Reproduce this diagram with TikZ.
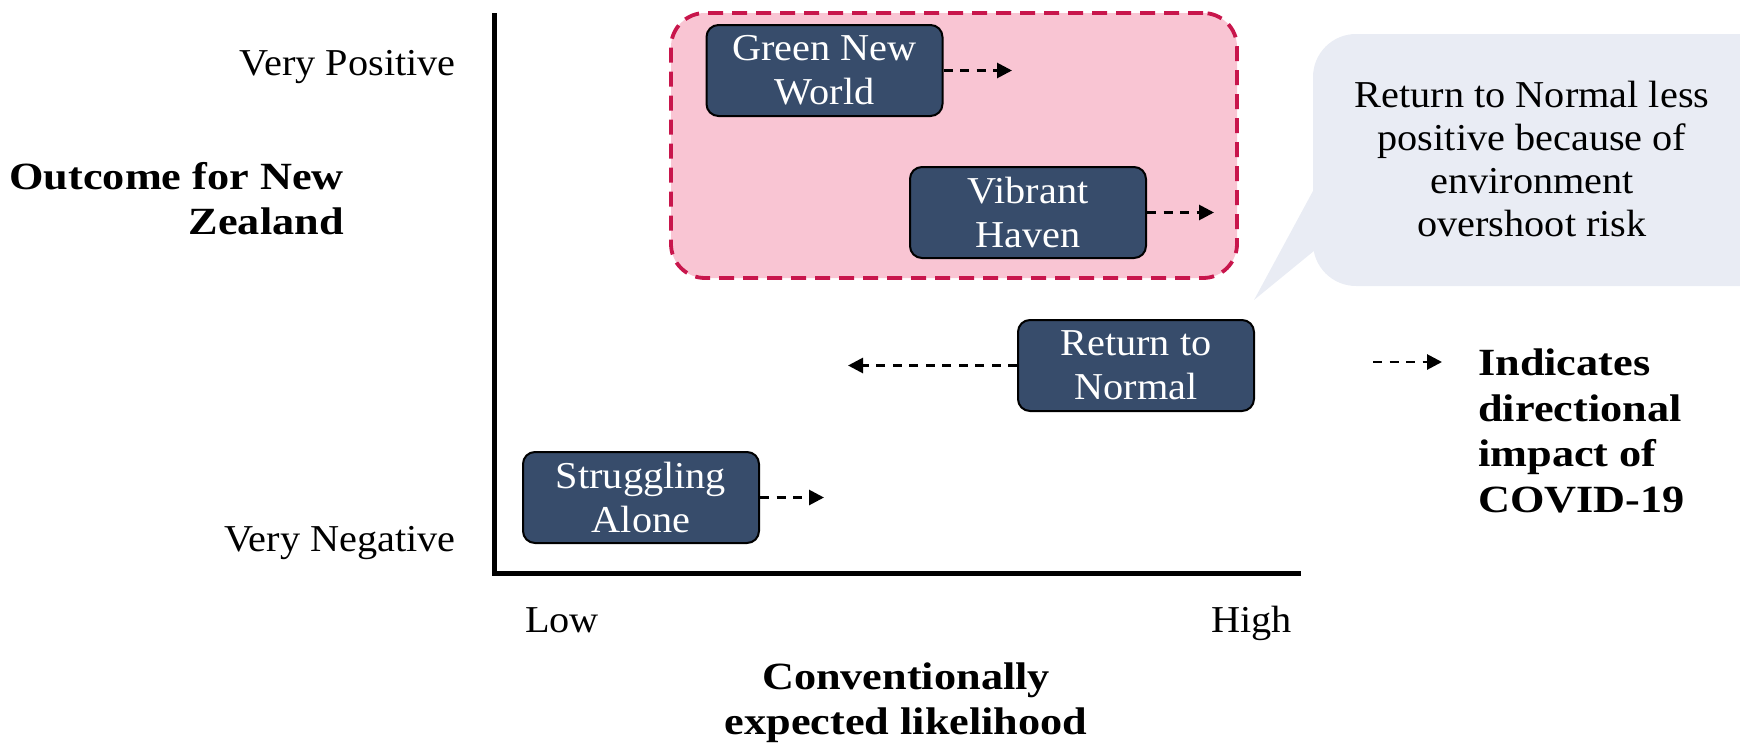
\documentclass[tikz,border=0pt]{standalone}
\usepackage{fontspec}
\setmainfont[FakeStretch=1.06]{Liberation Serif}
\newfontfamily\headfont[FakeStretch=1.15]{Liberation Serif}
\usetikzlibrary{arrows.meta}

\definecolor{scenblue}{HTML}{374C6B}
\definecolor{zonepink}{HTML}{F9C5D3}
\definecolor{zoneedge}{HTML}{C8164C}
\definecolor{notegrey}{HTML}{E9ECF4}

\tikzset{
  scen/.style={draw=black, line width=2pt, fill=scenblue, rounded corners=12pt,
    text=white, minimum width=236pt, minimum height=91pt, inner sep=0pt,
    align=center, font=\fontsize{38}{44}\selectfont},
  impact/.style={draw=black, line width=2.8pt, dash pattern=on 9pt off 7.5pt,
    -{Triangle[length=15pt,width=15pt]}},
  axisline/.style={line width=5pt, line join=miter},
  zone/.style={draw=zoneedge, fill=zonepink, line width=3.8pt,
    dash pattern=on 15pt off 9pt, rounded corners=34pt, inner sep=0pt},
  plain/.style={inner sep=0pt, font=\fontsize{38}{44}\selectfont},
  heading/.style={inner sep=0pt, font=\headfont\bfseries\fontsize{38.5}{45.5}\selectfont}
}

\begin{document}
\begin{tikzpicture}[x=1pt,y=-1pt]
\useasboundingbox (0,0) rectangle (1740,744);
\clip (0,0) rectangle (1740,744);

% favourable region
\node[zone, minimum width=566pt, minimum height=265pt] (zone) at (954,145.5) {};

% speech bubble behind the note
\fill[notegrey, rounded corners=43pt] (1313,34) rectangle (1790,286);
\fill[notegrey] (1320,178) -- (1254,300) -- (1320,246) -- cycle;
\node[plain, align=center, font=\fontsize{38}{43}\selectfont] (note) at (1532,158.5)
  {Return to Normal less\\positive because of\\environment\\overshoot risk};

% axes
\coordinate (ytop) at (494,13);
\coordinate (xend) at (1301,573);
\draw[axisline] (ytop) |- (xend);

% scenarios
\node[scen] (gnw) at (824.5,70.5) {Green New\\World};
\node[scen] (vh)  at (1028,212.5) {Vibrant\\Haven};
\node[scen] (rtn) at (1136,365.5) {Return to\\Normal};
\node[scen] (sa)  at (641,497.5)  {Struggling\\Alone};

% directional impact arrows
\coordinate (gnwtip) at (1012,70.5);
\coordinate (vhtip)  at (1214,212.5);
\coordinate (rtntip) at (848,365.5);
\coordinate (satip)  at (824,497.5);
\draw[impact] (gnw.east) -- (gnwtip);
\draw[impact] (vh.east)  -- (vhtip);
\draw[impact] (rtn.west) -- (rtntip);
\draw[impact] (sa.east)  -- (satip);

% axis labels
\node[plain, anchor=base east] (vpos) at (456,75) {Very Positive};
\node[plain, anchor=base east] (vneg) at (456,551) {Very Negative};
\node[heading, align=right, anchor=east] (ylab) at (344,198.5) {Outcome for New\\Zealand};
\node[plain, anchor=base west] (low)  at (525,632) {Low};
\node[plain, anchor=base east] (high) at (1292,632) {High};
\node[heading, align=center] (xlab) at (906,702.5) {Conventionally\\expected likelihood};

% legend
\coordinate (keytail) at (1373,362);
\coordinate (keytip)  at (1442,362);
\draw[impact] (keytail) -- (keytip);
\node[heading, align=left, anchor=west] (key) at (1478,431)
  {Indicates\\directional\\impact of\\COVID-19};
\end{tikzpicture}
\end{document}
